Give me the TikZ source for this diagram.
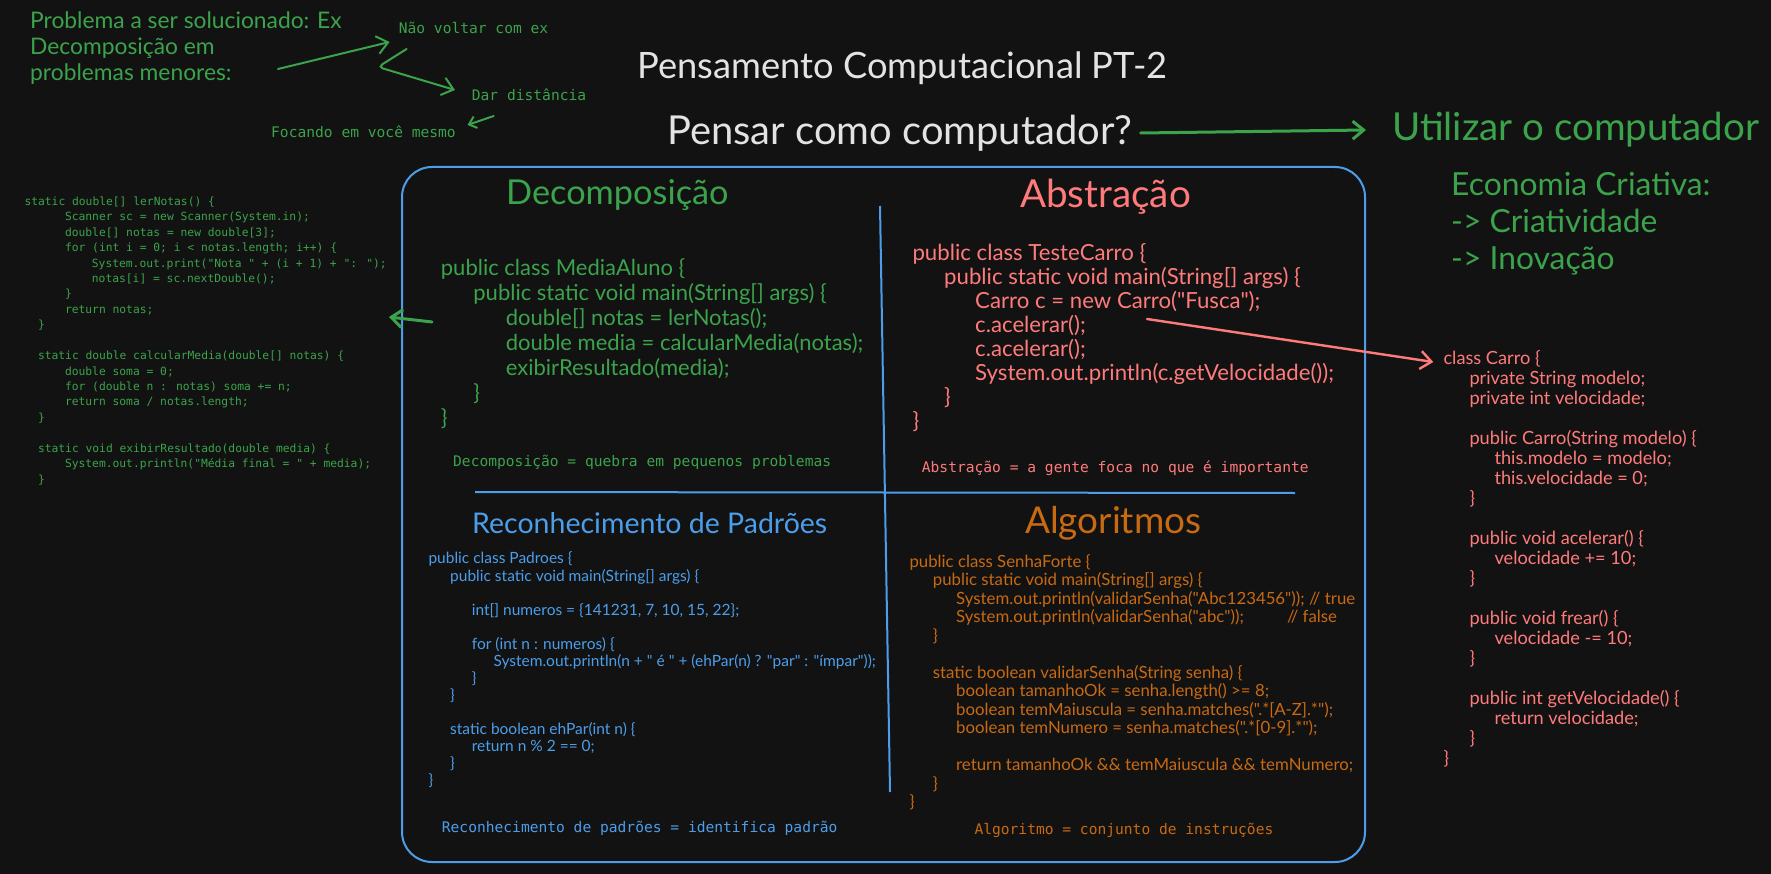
\documentclass[tikz,border=0pt]{standalone}
\usepackage{fontspec}
\setmainfont{Lato}
\newfontfamily\handfont{Lato}
\newfontfamily\codefont{DejaVu Sans Mono}
\usetikzlibrary{arrows.meta}

\definecolor{bgdark}{HTML}{121212}
\definecolor{exgreen}{HTML}{3BA34B}
\definecolor{exred}{HTML}{FF7B7B}
\definecolor{exblue}{HTML}{4C9EEB}
\definecolor{exorange}{HTML}{C86A12}
\definecolor{exwhite}{HTML}{E3E3E3}

\newcommand{\fsz}[2]{\fontsize{#1}{#2}\selectfont}

\tikzset{
  hand/.style={inner sep=0pt, anchor=west, font=\handfont},
  mono/.style={inner sep=0pt, anchor=west, font=\codefont\fsz{14.6}{18}},
  codeblock/.style={inner sep=0pt, anchor=north west, align=left},
  panel/.style={exblue, line width=2pt},
  sketch arrow/.style={line width=2.4pt, line cap=round, -{Straight Barb[length=11pt,width=18pt]}},
}

\begin{document}
\begin{tikzpicture}[x=1pt,y=-1pt]
  \fill[bgdark] (0,0) rectangle (1771,874);
  \useasboundingbox (0,0) rectangle (1771,874);

  % notas do topo
  \node[hand, exgreen, align=left, anchor=north west, font=\handfont\fsz{22.8}{26}] (problema) at (30,11.1) {Problema a ser solucionado: Ex\\Decomposição em\\problemas menores:};
  \node[mono, exgreen] (naovoltar) at (398.6,28) {Não voltar com ex};
  \node[mono, exgreen] (dardist) at (471.7,95) {Dar distância};
  \node[mono, exgreen] (focando) at (271,132) {Focando em você mesmo};

  \node[hand, exwhite, font=\handfont\fsz{36.3}{40}] (titulo) at (637,68) {Pensamento Computacional PT-2};
  \node[hand, exwhite, font=\handfont\fsz{39.9}{44}] (pensar) at (667,133) {Pensar como computador?};
  \node[hand, exgreen, font=\handfont\fsz{38.5}{44}] (utilizar) at (1392,130) {Utilizar o computador};
  \node[hand, exgreen, align=left, anchor=north west, font=\handfont\fsz{31.8}{37}] (economia) at (1451,171.5) {Economia Criativa:\\-> Criatividade\\-> Inovação};

  % quadro
  \draw[panel, rounded corners=30pt] (402,167) rectangle (1365,862);
  \draw[panel] (475,492) -- (1295,493);
  \draw[panel] (880,206) -- (890,792);

  \node[hand, exgreen, font=\handfont\fsz{34.3}{40}] (decomp) at (506,195) {Decomposição};
  \node[hand, exred, font=\handfont\fsz{38.6}{44}] (abstr) at (1020,197) {Abstração};
  \node[hand, exblue, font=\handfont\fsz{28.5}{32}] (padroes) at (472,523) {Reconhecimento de Padrões};
  \node[hand, exorange, font=\handfont\fsz{36.9}{44}] (algo) at (1025,523) {Algoritmos};

  \node[codeblock, exgreen, font=\handfont\fsz{22}{25}] (decompcode) at (440.7,258.6) {%
public class MediaAluno \{\\
\hspace*{32.5pt}public static void main(String[] args) \{\\
\hspace*{65pt}double[] notas = lerNotas();\\
\hspace*{65pt}double media = calcularMedia(notas);\\
\hspace*{65pt}exibirResultado(media);\\
\hspace*{32.5pt}\}\\
\}};

  \node[codeblock, exred, font=\handfont\fsz{22.2}{24.04}] (abstrcode) at (912.3,243.5) {%
public class TesteCarro \{\\
\hspace*{31.7pt}public static void main(String[] args) \{\\
\hspace*{62.7pt}Carro c = new Carro("Fusca");\\
\hspace*{62.7pt}c.acelerar();\\
\hspace*{62.7pt}c.acelerar();\\
\hspace*{62.7pt}System.out.println(c.getVelocidade());\\
\hspace*{31.7pt}\}\\
\}};

  \node[codeblock, exblue, font=\handfont\fsz{15.5}{17.05}] (padroescode) at (428.3,551.9) {%
public class Padroes \{\\
\hspace*{21.7pt}public static void main(String[] args) \{\\
\mbox{}\\
\hspace*{43.4pt}int[] numeros = \{141231, 7, 10, 15, 22\};\\
\mbox{}\\
\hspace*{43.4pt}for (int n : numeros) \{\\
\hspace*{65pt}System.out.println(n + " é " + (ehPar(n) ? "par" : "ímpar"));\\
\hspace*{43.4pt}\}\\
\hspace*{21.7pt}\}\\
\mbox{}\\
\hspace*{21.7pt}static boolean ehPar(int n) \{\\
\hspace*{43.4pt}return n \% 2 == 0;\\
\hspace*{21.7pt}\}\\
\}};

  \node[codeblock, exorange, font=\handfont\fsz{16.8}{18.5}] (algocode) at (909.3,554) {%
public class SenhaForte \{\\
\hspace*{23.4pt}public static void main(String[] args) \{\\
\hspace*{46.7pt}System.out.println(validarSenha("Abc123456")); // true\\
\hspace*{46.7pt}\makebox[330.7pt][l]{System.out.println(validarSenha("abc"));}// false\\
\hspace*{23.4pt}\}\\
\mbox{}\\
\hspace*{23.4pt}static boolean validarSenha(String senha) \{\\
\hspace*{46.7pt}boolean tamanhoOk = senha.length() >= 8;\\
\hspace*{46.7pt}boolean temMaiuscula = senha.matches(".*[A-Z].*");\\
\hspace*{46.7pt}boolean temNumero = senha.matches(".*[0-9].*");\\
\mbox{}\\
\hspace*{46.7pt}return tamanhoOk \&\& temMaiuscula \&\& temNumero;\\
\hspace*{23.4pt}\}\\
\}};

  \node[codeblock, exred, font=\handfont\fsz{18.2}{20}] (carrocode) at (1443.3,350.5) {%
class Carro \{\\
\hspace*{26pt}private String modelo;\\
\hspace*{26pt}private int velocidade;\\
\mbox{}\\
\hspace*{26pt}public Carro(String modelo) \{\\
\hspace*{51pt}this.modelo = modelo;\\
\hspace*{51pt}this.velocidade = 0;\\
\hspace*{26pt}\}\\
\mbox{}\\
\hspace*{26pt}public void acelerar() \{\\
\hspace*{51pt}velocidade += 10;\\
\hspace*{26pt}\}\\
\mbox{}\\
\hspace*{26pt}public void frear() \{\\
\hspace*{51pt}velocidade -= 10;\\
\hspace*{26pt}\}\\
\mbox{}\\
\hspace*{26pt}public int getVelocidade() \{\\
\hspace*{51pt}return velocidade;\\
\hspace*{26pt}\}\\
\}};

  \node[codeblock, exgreen, font=\codefont\fsz{11.3}{15.43}] (leftcode) at (24.3,196.5) {%
static double[] lerNotas() \{\\
\hspace*{40.5pt}Scanner sc = new Scanner(System.in);\\
\hspace*{40.5pt}double[] notas = new double[3];\\
\hspace*{40.5pt}for (int i = 0; i < notas.length; i++) \{\\
\hspace*{67.4pt}System.out.print("Nota " + (i + 1) + ": ");\\
\hspace*{67.4pt}notas[i] = sc.nextDouble();\\
\hspace*{40.5pt}\}\\
\hspace*{40.5pt}return notas;\\
\hspace*{13.5pt}\}\\
\mbox{}\\
\hspace*{13.5pt}static double calcularMedia(double[] notas) \{\\
\hspace*{40.5pt}double soma = 0;\\
\hspace*{40.5pt}for (double n : notas) soma += n;\\
\hspace*{40.5pt}return soma / notas.length;\\
\hspace*{13.5pt}\}\\
\mbox{}\\
\hspace*{13.5pt}static void exibirResultado(double media) \{\\
\hspace*{40.5pt}System.out.println("Média final = " + media);\\
\hspace*{13.5pt}\}};

  \node[mono, exgreen] (decompnote) at (453,462) {Decomposição = quebra em pequenos problemas};
  \node[mono, exred] (abstrnote) at (921.7,468) {Abstração = a gente foca no que é importante};
  \node[mono, exblue] (padroesnote) at (441.7,828) {Reconhecimento de padrões = identifica padrão};
  \node[mono, exorange] (algonote) at (974.3,830) {Algoritmo = conjunto de instruções};

  % setas
  \draw[sketch arrow, exgreen, line width=2pt] ([xshift=248pt,yshift=-57.9pt]problema.north west) -- ([xshift=-9pt,yshift=-14pt]naovoltar.west);
  \draw[sketch arrow, exgreen, line width=2pt, rounded corners=5pt] ([xshift=8pt,yshift=-21pt]naovoltar.west) -- (378,67) -- ([xshift=-16.7pt,yshift=5pt]dardist.west);
  \draw[exgreen, line width=2pt, line cap=round, -{Straight Barb[length=7pt,width=12pt]}] ([xshift=22pt,yshift=-21pt]dardist.west) -- ([xshift=11.5pt,yshift=7pt]focando.east);
  \draw[sketch arrow, exgreen, line width=3pt] ([xshift=8pt]pensar.east) -- ([xshift=-26pt]utilizar.west);
  \draw[sketch arrow, exgreen, line width=3pt] ([xshift=-8.7pt,yshift=-63.4pt]decompcode.north west) -- ([xshift=2pt,yshift=-120.5pt]leftcode.north east);
  \draw[sketch arrow, exred, line width=2.4pt] ([xshift=234.7pt,yshift=-75.5pt]abstrcode.north west) -- ([xshift=-10pt,yshift=-11.5pt]carrocode.north west);
\end{tikzpicture}
\end{document}
